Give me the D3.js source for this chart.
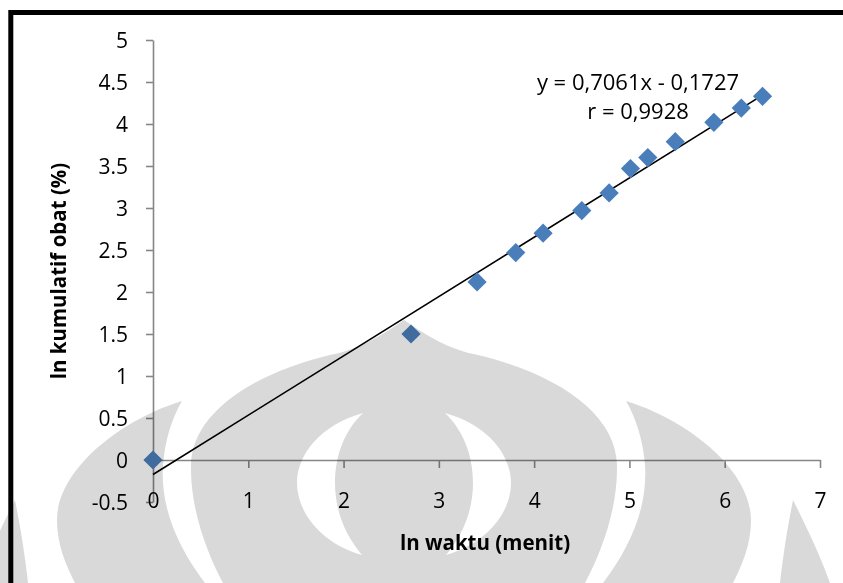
<!DOCTYPE html>
<html>
<head>
<meta charset="utf-8">
<script src="https://cdn.jsdelivr.net/npm/d3@7"></script>
<style>
  html, body { margin: 0; padding: 0; background: #fff; }
  svg { display: block; font-family: "Open Sans", "DejaVu Sans", sans-serif; }
  .wm { mix-blend-mode: multiply; }
</style>
</head>
<body>
<svg id="chart" width="843" height="583"></svg>
<script>
// ln waktu (menit) vs ln kumulatif obat (%)
const lnWaktu = [0, 2.708, 3.401, 3.807, 4.094, 4.500, 4.787, 5.011, 5.193, 5.481, 5.886, 6.174, 6.397];
const lnKumulatif = [0, 1.50, 2.12, 2.47, 2.70, 2.97, 3.18, 3.47, 3.60, 3.79, 4.02, 4.19, 4.33];

// linear regression shown on the chart
const slope = 0.7061;
const intercept = -0.1727;
const equationLines = ["y = 0,7061x - 0,1727", "r = 0,9928"];

const xTicks = [0, 1, 2, 3, 4, 5, 6, 7];
const xTickLabels = ["0", "1", "2", "3", "4", "5", "6", "7"];
const yTicks = [-0.5, 0, 0.5, 1, 1.5, 2, 2.5, 3, 3.5, 4, 4.5, 5];
const yTickLabels = ["-0.5", "0", "0.5", "1", "1.5", "2", "2.5", "3", "3.5", "4", "4.5", "5"];

const xTitle = "ln waktu (menit)";
const yTitle = "ln kumulatif obat (%)";

const svg = d3.select("#chart");
const W = 843, H = 583;

svg.append("rect").attr("width", W).attr("height", H).attr("fill", "#fff");

const x = d3.scaleLinear().domain([0, 7]).range([153, 820]);
const y = d3.scaleLinear().domain([-0.5, 5]).range([502, 40]);

const axisColor = "#868686";

// y axis
const yAxis = svg.append("g")
  .attr("transform", `translate(${x(0)},0)`)
  .call(d3.axisLeft(y)
    .tickValues(yTicks)
    .tickFormat((d, i) => yTickLabels[i])
    .tickSize(7)
    .tickSizeOuter(0)
    .tickPadding(18));

// x axis crossing at y = 0
const xAxis = svg.append("g")
  .attr("transform", `translate(0,${y(0)})`)
  .call(d3.axisBottom(x)
    .tickValues(xTicks)
    .tickFormat((d, i) => xTickLabels[i])
    .tickSize(8)
    .tickSizeOuter(0));

[yAxis, xAxis].forEach(g => {
  g.select(".domain").attr("stroke", axisColor).attr("stroke-width", 1.6);
  g.selectAll(".tick line").attr("stroke", axisColor).attr("stroke-width", 1.6);
  g.selectAll(".tick text")
    .attr("fill", "#000")
    .attr("font-size", 21)
    .attr("font-family", "'Open Sans', sans-serif");
});
yAxis.selectAll(".tick text").attr("dy", "0.35em");
xAxis.selectAll(".tick text").attr("y", 48).attr("dy", 0);

// regression line
const xEnd = d3.max(lnWaktu);
svg.append("line")
  .attr("x1", x(0)).attr("y1", y(intercept))
  .attr("x2", x(xEnd)).attr("y2", y(slope * xEnd + intercept))
  .attr("stroke", "#000")
  .attr("stroke-width", 1.6);

// data points (diamonds)
const diamond = d3.symbol().type(d3.symbolSquare).size(185);
svg.append("g")
  .selectAll("path")
  .data(lnWaktu.map((v, i) => [v, lnKumulatif[i]]))
  .join("path")
  .attr("d", diamond)
  .attr("transform", d => `translate(${x(d[0])},${y(d[1])}) rotate(45)`)
  .attr("fill", "#4A7EBB");

// equation label
svg.append("g")
  .selectAll("text")
  .data(equationLines)
  .join("text")
  .attr("x", 638)
  .attr("y", (d, i) => 90 + i * 29)
  .attr("text-anchor", "middle")
  .attr("font-size", 22)
  .attr("fill", "#000")
  .text(d => d);

// axis titles
svg.append("text")
  .attr("x", 485).attr("y", 550)
  .attr("text-anchor", "middle")
  .attr("font-size", 20.5)
  .attr("font-weight", "bold")
  .text(xTitle);

svg.append("text")
  .attr("transform", "translate(66,271) rotate(-90)")
  .attr("text-anchor", "middle")
  .attr("font-size", 20.5)
  .attr("font-weight", "bold")
  .text(yTitle);

// page frame
svg.append("path")
  .attr("d", "M10.8,590 L10.8,12.5 L850,12.5")
  .attr("fill", "none")
  .attr("stroke", "#000")
  .attr("stroke-width", 5);

// background emblem watermark, multiplied over the page
const emblem = [
  // central bulb with two crescent openings
  "M404,320 C425,335 450,350 478,355 C560,375 616,415 617,465 C618,510 600,555 585,583 " +
  "L223,583 C208,555 190,510 191,465 C192,415 248,375 330,355 C358,350 383,335 404,320 Z " +
  "M363,413 C320,425 297,455 297,483 C297,515 325,545 362,555 C345,535 335,510 335,483 C335,455 345,430 363,413 Z " +
  "M445,413 C488,425 511,455 511,483 C511,515 483,545 446,555 C463,535 473,510 473,483 C473,455 463,430 445,413 Z",
  // left petal
  "M182,401 C120,420 57,470 57,520 C57,545 66,565 75,583 L205,583 C180,550 160,510 163,465 C165,440 172,418 182,401 Z",
  // right petal
  "M626,401 C688,420 751,470 751,520 C751,545 742,565 733,583 L603,583 C628,550 648,510 645,465 C643,440 636,418 626,401 Z",
  // outer slivers
  "M15,500 C20,525 25,555 28,583 L-22,583 C-10,550 5,520 15,500 Z",
  "M793,500 C788,525 783,555 780,583 L830,583 C818,550 803,520 793,500 Z"
];
svg.append("g")
  .selectAll("path")
  .data(emblem)
  .join("path")
  .attr("class", "wm")
  .attr("d", d => d)
  .attr("fill", "#D9D9D9")
  .attr("fill-rule", "evenodd");
</script>
</body>
</html>
